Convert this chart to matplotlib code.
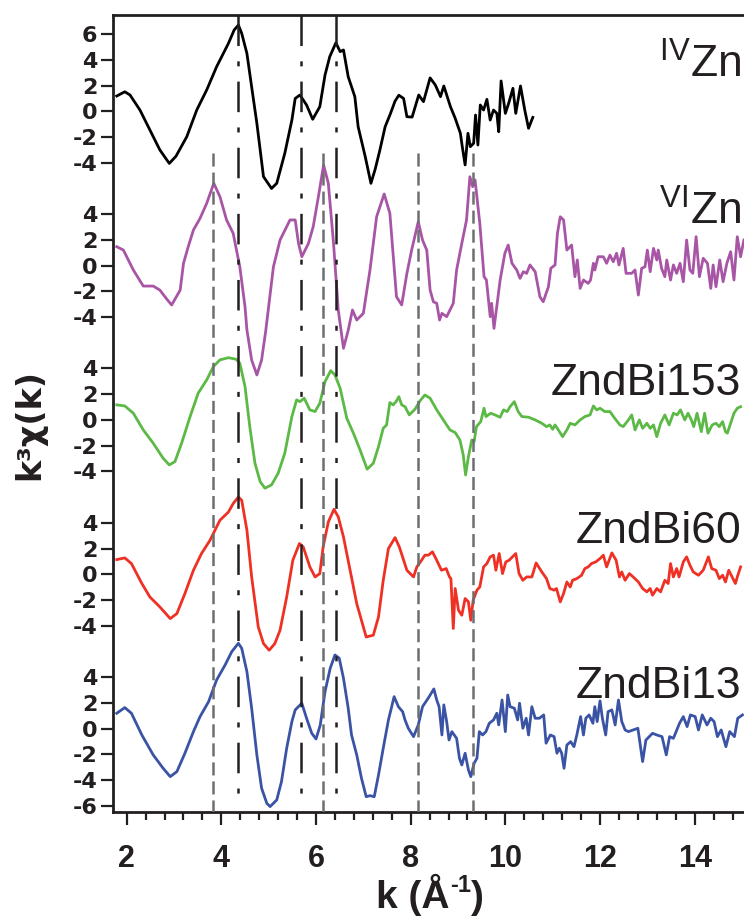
import numpy as np
import matplotlib
matplotlib.use("Agg")
import matplotlib.pyplot as plt
from matplotlib.ticker import MultipleLocator

plt.rcParams['font.family'] = ['Liberation Sans', 'DejaVu Sans']
plt.rcParams['mathtext.fontset'] = 'custom'
plt.rcParams['mathtext.rm'] = 'Liberation Sans'
plt.rcParams['mathtext.bf'] = 'Liberation Sans:bold'
plt.rcParams['lines.scale_dashes'] = False

# --- k^3 chi(k) spectra ---
k_ivzn = [1.79, 1.96, 2.07, 2.28, 2.49, 2.70, 2.90, 3.04, 3.27, 3.48, 3.69, 3.90, 4.15, 4.27,
          4.36, 4.43, 4.54, 4.64, 4.75, 4.89, 5.06, 5.17, 5.34, 5.49, 5.56, 5.66, 5.80, 5.93,
          6.08, 6.19, 6.29, 6.42, 6.51, 6.58, 6.68, 6.82, 6.89, 7.04, 7.16, 7.25, 7.35, 7.46,
          7.57, 7.67, 7.75, 7.85, 7.92, 8.03, 8.17, 8.27, 8.41, 8.52, 8.63, 8.70, 8.84, 8.94,
          9.05, 9.09, 9.15, 9.21, 9.26, 9.33, 9.37, 9.42, 9.47, 9.54, 9.61, 9.68, 9.75, 9.82,
          9.86, 9.91, 10.00, 10.07, 10.16, 10.22, 10.32, 10.41, 10.49, 10.58]
chi_ivzn = [1.19, 1.52, 1.27, 0.10, -1.45, -3.00, -4.05, -3.50, -1.97, 0.10, 1.66, 3.47, 5.29, 6.32,
            6.71, 6.06, 4.50, 1.90, -0.93, -5.08, -6.00, -5.60, -3.27, -0.68, 1.00, 1.27, 0.49, -0.62,
            0.36, 2.82, 4.25, 5.33, 4.64, 4.77, 2.69, 1.14, -1.20, -3.53, -5.60, -4.50, -3.00, -1.20,
            -0.20, 0.80, 1.25, 1.00, -0.42, -0.45, 1.27, 0.75, 2.60, 2.05, 1.14, 1.97, 0.36, -0.54,
            -1.71, -2.75, -4.17, -1.71, -2.75, -2.49, -0.29, -2.62, 0.49, 0.10, 0.93, -0.68, 0.10, -0.16,
            -1.59, 2.36, -0.16, 0.62, 1.79, -0.16, 1.97, 0.10, -1.32, -0.47]

k_vizn = [1.79, 1.93, 2.14, 2.35, 2.56, 2.70, 2.85, 2.95, 3.13, 3.20, 3.30, 3.41, 3.55, 3.69,
          3.84, 3.97, 4.11, 4.25, 4.39, 4.50, 4.54, 4.64, 4.75, 4.85, 4.94, 5.10, 5.24, 5.45,
          5.56, 5.63, 5.70, 5.84, 5.94, 6.05, 6.16, 6.26, 6.37, 6.47, 6.58, 6.68, 6.77, 6.86,
          7.00, 7.14, 7.28, 7.44, 7.56, 7.70, 7.81, 7.92, 8.02, 8.16, 8.25, 8.34, 8.41, 8.48,
          8.55, 8.61, 8.66, 8.76, 8.83, 8.90, 8.97, 9.08, 9.18, 9.25, 9.31, 9.36, 9.46, 9.55,
          9.60, 9.68, 9.71, 9.76, 9.89, 9.99, 10.06, 10.14, 10.24, 10.31, 10.38, 10.45, 10.52, 10.63,
          10.73, 10.80, 10.91, 10.96, 11.05, 11.10, 11.16, 11.23, 11.30, 11.40, 11.47, 11.52, 11.58, 11.65,
          11.75, 11.80, 11.86, 11.89, 11.96, 12.07, 12.14, 12.21, 12.28, 12.35, 12.40, 12.49, 12.55, 12.67,
          12.74, 12.81, 12.88, 12.95, 13.00, 13.06, 13.13, 13.20, 13.23, 13.30, 13.37, 13.41, 13.49, 13.55,
          13.62, 13.69, 13.76, 13.83, 13.90, 13.96, 14.03, 14.10, 14.18, 14.27, 14.34, 14.39, 14.45, 14.53,
          14.60, 14.68, 14.76, 14.83, 14.90, 14.97, 15.04]
chi_vizn = [1.47, 1.21, -0.34, -1.59, -1.59, -1.90, -2.62, -3.06, -1.90, 0.18, 1.47, 2.77, 3.68, 4.84,
            6.40, 5.36, 3.55, 2.51, -0.09, -3.20, -5.00, -7.34, -8.50, -7.34, -5.00, -0.09, 1.99, 3.55,
            3.55, 1.73, 0.69, 1.73, 3.02, 5.36, 7.82, 6.40, 1.73, -3.45, -6.43, -5.03, -3.45, -4.23,
            -3.71, -0.34, 3.80, 5.57, 4.07, -2.42, -3.06, -0.60, 1.21, 3.41, 1.99, 1.20, -1.90, -2.81,
            -2.93, -4.23, -3.71, -3.97, -3.45, -2.93, -0.34, 1.73, 3.55, 6.91, 6.14, 6.66, 3.29, -0.86,
            -1.12, -3.97, -2.93, -4.88, -1.12, 0.96, 1.60, 0.18, -0.34, -0.99, -0.47, -0.60, 0.05, -0.47,
            -2.42, -2.81, -1.64, -0.21, 0.05, 2.51, 3.80, 3.55, 1.21, 1.60, -0.86, 0.44, -1.77, -1.12,
            -1.38, -1.12, 0.18, -0.34, 0.69, 0.69, 0.18, 0.82, 0.30, 0.96, 0.05, 1.34, -0.60, -0.60,
            -0.34, -2.29, -0.21, -0.09, 1.21, -0.47, 1.34, 0.44, 1.21, -0.21, -0.86, 0.44, -1.12, 0.05,
            -0.60, 0.18, -1.25, 1.99, -0.34, -0.60, 2.25, -0.86, 0.57, 0.18, -1.77, 0.05, -1.64, 0.44,
            -1.25, 0.18, 1.08, -1.12, 2.25, 0.69, 1.99]

k_bi153 = [1.79, 1.96, 2.14, 2.35, 2.56, 2.77, 2.90, 3.02, 3.16, 3.34, 3.51, 3.69, 3.83, 3.97,
           4.15, 4.31, 4.39, 4.50, 4.60, 4.71, 4.82, 4.92, 5.06, 5.20, 5.34, 5.49, 5.59, 5.66,
           5.75, 5.87, 5.98, 6.08, 6.19, 6.31, 6.40, 6.51, 6.65, 6.79, 6.93, 7.08, 7.21, 7.32,
           7.42, 7.49, 7.56, 7.63, 7.69, 7.75, 7.81, 7.88, 7.97, 8.09, 8.20, 8.30, 8.41, 8.55,
           8.69, 8.83, 8.94, 9.04, 9.11, 9.16, 9.22, 9.29, 9.34, 9.39, 9.48, 9.55, 9.59, 9.69,
           9.78, 9.89, 9.96, 10.04, 10.10, 10.19, 10.27, 10.35, 10.49, 10.63, 10.77, 10.87, 10.94, 11.00,
           11.05, 11.12, 11.21, 11.30, 11.37, 11.47, 11.58, 11.68, 11.79, 11.86, 11.93, 12.00, 12.10, 12.21,
           12.31, 12.42, 12.49, 12.60, 12.67, 12.74, 12.83, 12.90, 12.99, 13.06, 13.13, 13.20, 13.28, 13.37,
           13.46, 13.55, 13.63, 13.70, 13.79, 13.86, 13.93, 13.98, 14.05, 14.14, 14.21, 14.28, 14.37, 14.45,
           14.52, 14.59, 14.65, 14.69, 14.76, 14.83, 14.90, 14.97]
chi_bi153 = [1.17, 1.09, 0.52, -0.78, -1.81, -2.98, -3.50, -3.24, -1.81, 0.26, 2.08, 3.11, 4.14, 4.67,
             4.84, 4.72, 4.41, 2.59, -0.52, -3.37, -4.80, -5.31, -5.05, -4.15, -2.59, 0.26, 1.56, 1.42,
             1.69, 0.78, 0.65, 1.30, 2.98, 3.83, 3.50, 2.46, 0.13, -1.03, -2.33, -3.83, -3.37, -2.08,
             -0.65, -0.39, 1.35, 1.17, 1.42, 1.81, 1.17, 1.03, 0.39, 0.83, 1.50, 1.94, 1.69, 0.78,
             0.00, -0.78, -0.98, -1.56, -2.72, -4.28, -2.85, -1.56, -1.69, -0.52, -0.13, 0.91, 0.26, 0.52,
             0.39, 0.21, 0.78, 0.65, 1.03, 1.42, 0.65, 0.26, 0.21, 0.00, -0.26, -0.52, -0.39, -0.73,
             -0.39, -0.78, -1.30, -0.78, -0.26, -0.39, 0.00, 0.26, 0.39, 1.09, 0.78, 0.91, 0.65, 0.65,
             0.13, -0.39, -0.52, 0.00, 0.39, -0.78, 0.00, -0.65, -0.26, -0.65, -0.39, -1.30, -0.26, 0.39,
             -0.39, 0.52, 0.39, 0.78, 0.00, 0.52, 0.00, -0.52, 0.52, -0.91, 0.52, -1.03, -0.39, -0.26,
             -0.52, -0.13, -0.91, -1.03, -0.26, 0.52, 0.91, 1.03]

k_bi60 = [1.79, 1.96, 2.10, 2.32, 2.49, 2.70, 2.92, 3.06, 3.23, 3.41, 3.58, 3.76, 3.97, 4.15,
          4.25, 4.36, 4.43, 4.54, 4.64, 4.78, 4.89, 5.01, 5.13, 5.24, 5.38, 5.51, 5.65, 5.73,
          5.87, 5.98, 6.08, 6.15, 6.26, 6.38, 6.47, 6.58, 6.72, 6.86, 7.06, 7.21, 7.32, 7.42,
          7.53, 7.67, 7.76, 7.85, 7.92, 8.06, 8.13, 8.23, 8.30, 8.37, 8.46, 8.55, 8.65, 8.75,
          8.82, 8.85, 8.90, 8.94, 9.01, 9.08, 9.15, 9.22, 9.27, 9.32, 9.40, 9.46, 9.54, 9.61,
          9.68, 9.75, 9.80, 9.87, 9.94, 10.01, 10.08, 10.15, 10.22, 10.29, 10.37, 10.45, 10.56, 10.65,
          10.77, 10.87, 10.94, 11.03, 11.08, 11.16, 11.23, 11.30, 11.37, 11.42, 11.51, 11.61, 11.68, 11.75,
          11.82, 11.91, 12.00, 12.07, 12.14, 12.25, 12.34, 12.41, 12.46, 12.53, 12.62, 12.70, 12.81, 12.90,
          12.99, 13.06, 13.11, 13.20, 13.28, 13.37, 13.44, 13.49, 13.55, 13.62, 13.67, 13.76, 13.83, 13.90,
          13.97, 14.08, 14.18, 14.29, 14.36, 14.45, 14.52, 14.59, 14.65, 14.72, 14.79, 14.86, 14.90, 14.97]
chi_bi60 = [1.14, 1.27, 0.83, -0.72, -1.77, -2.54, -3.45, -3.06, -1.50, 0.31, 1.61, 2.64, 4.20, 4.84,
            5.50, 6.01, 5.75, 3.42, -0.21, -4.10, -5.39, -5.91, -5.39, -4.35, -1.77, 1.09, 2.39, 2.12,
            0.57, -0.21, 0.05, 2.12, 4.07, 5.05, 4.46, 2.90, 0.31, -2.28, -4.88, -4.74, -3.32, -0.47,
            2.00, 2.85, 2.12, 1.09, 0.31, -0.21, 0.57, 1.09, 1.48, 1.48, 1.74, 1.09, 0.31, 0.44,
            -0.21, -0.34, -4.22, -1.11, -2.80, -3.19, -1.89, -2.15, -3.58, -2.02, -1.24, -0.99, 0.57, 0.83,
            1.35, 1.48, 0.31, 1.61, 0.05, 0.96, 1.09, 1.35, 1.61, 0.05, -0.47, -0.21, -0.21, 0.88,
            0.18, -0.34, -1.11, -1.24, -1.11, -2.15, -1.50, -0.60, -0.99, -0.47, -0.34, -0.08, 0.44, 0.57,
            0.83, 0.96, 1.22, 1.48, 0.57, 1.66, 1.09, -0.21, 0.18, -0.47, 0.05, -0.21, -0.60, -1.11,
            -1.37, -1.11, -1.63, -1.11, -1.37, -0.47, -0.72, 0.83, -0.21, 0.44, -0.21, 0.96, 1.35, 0.70,
            0.18, -0.08, 0.31, 1.35, 0.44, 0.31, -0.34, -0.08, -0.60, 0.31, -0.21, -0.72, -0.21, 0.57]

k_bi13 = [1.79, 1.96, 2.10, 2.32, 2.56, 2.77, 2.92, 3.06, 3.23, 3.41, 3.55, 3.73, 3.90, 4.08,
          4.22, 4.36, 4.43, 4.54, 4.64, 4.75, 4.85, 4.96, 5.03, 5.17, 5.27, 5.38, 5.49, 5.56,
          5.70, 5.80, 5.91, 6.00, 6.09, 6.19, 6.30, 6.40, 6.49, 6.58, 6.68, 6.75, 6.86, 6.96,
          7.06, 7.14, 7.23, 7.32, 7.42, 7.53, 7.65, 7.74, 7.83, 7.88, 7.95, 8.06, 8.16, 8.25,
          8.37, 8.49, 8.55, 8.60, 8.66, 8.70, 8.76, 8.81, 8.87, 8.97, 9.03, 9.08, 9.15, 9.22,
          9.27, 9.34, 9.40, 9.45, 9.52, 9.59, 9.66, 9.75, 9.82, 9.86, 9.93, 10.00, 10.05, 10.10,
          10.19, 10.26, 10.30, 10.37, 10.44, 10.49, 10.56, 10.63, 10.72, 10.81, 10.86, 10.95, 11.03, 11.09,
          11.14, 11.19, 11.24, 11.30, 11.38, 11.45, 11.51, 11.59, 11.65, 11.70, 11.77, 11.85, 11.89, 11.94,
          12.00, 12.05, 12.12, 12.17, 12.25, 12.32, 12.39, 12.46, 12.53, 12.60, 12.80, 12.90, 12.97, 13.11,
          13.20, 13.31, 13.40, 13.47, 13.55, 13.68, 13.76, 13.84, 13.91, 14.01, 14.08, 14.16, 14.26, 14.34,
          14.41, 14.48, 14.56, 14.66, 14.74, 14.84, 14.91, 15.01]
chi_bi13 = [1.19, 1.63, 1.19, -0.50, -2.05, -3.09, -3.74, -3.35, -1.92, -0.24, 0.93, 2.09, 3.78, 4.95,
            5.98, 6.63, 6.24, 4.42, 1.58, -2.05, -4.64, -5.81, -6.07, -5.55, -4.13, -1.53, 0.54, 1.45,
            1.97, 0.80, -0.37, -0.81, 0.28, 2.87, 4.69, 5.72, 5.47, 3.91, 1.58, -0.50, -2.05, -3.86,
            -5.30, -5.22, -5.30, -3.61, -1.53, 0.67, 2.48, 1.70, 1.31, 0.67, 0.02, -0.63, 0.28, 1.70,
            2.36, 3.08, 2.22, 1.70, -0.50, 1.84, 0.54, -0.89, -0.24, -0.76, -2.31, -2.83, -1.92, -3.22,
            -3.74, -2.70, -2.31, -0.24, -0.50, -0.24, 0.41, 0.67, 1.19, 0.28, 2.22, -0.24, 2.61, 1.70,
            1.58, 0.67, 1.97, 0.02, 0.80, -0.50, 1.70, 0.80, 0.80, 1.06, -1.14, -0.50, -0.63, -1.92,
            -1.53, -1.92, -3.09, -1.28, -1.02, -1.41, -0.50, 0.93, -0.50, 0.80, 1.06, 0.41, 1.70, 0.54,
            2.15, 0.80, -0.50, 1.31, 1.45, 0.28, 2.22, 0.54, -0.11, -0.24, 0.02, -2.57, -0.89, -0.37,
            -0.50, -0.63, -2.05, -0.63, -0.76, 0.41, 0.93, 0.15, 1.06, 0.93, -0.11, 1.06, 0.28, 0.80,
            0.54, -0.63, -0.11, -1.41, -0.24, -0.63, 0.80, 1.06]

names = [r"$^{\mathrm{IV}}$Zn", r"$^{\mathrm{VI}}$Zn", "ZndBi153", "ZndBi60", "ZndBi13"]
k_all = [k_ivzn, k_vizn, k_bi153, k_bi60, k_bi13]
chi_all = [chi_ivzn, chi_vizn, chi_bi153, chi_bi60, chi_bi13]
colors = ["#000000", "#a855a6", "#5cb946", "#ee3124", "#3a53a4"]
offsets = [0, -12, -24, -36, -48]
yticks_each = [[6, 4, 2, 0, -2, -4], [4, 2, 0, -2, -4], [4, 2, 0, -2, -4],
               [4, 2, 0, -2, -4], [4, 2, 0, -2, -4, -6]]
label_base = [2.59, 3.16, 1.94, 2.43, 2.40]

# reference lines
dashdot_k = [4.345, 5.676, 6.42]
dashed_k = [3.83, 6.155, 8.16, 9.315]

ink = "#231f20"

fig = plt.figure(figsize=(7.44, 9.17), dpi=100)
ax = fig.add_axes([113.3 / 744, 1 - 812 / 917, 1 - 113.3 / 744, 797 / 917])

for k, chi, c, off in zip(k_all, chi_all, colors, offsets):
    ax.plot(k, np.array(chi) + off, color=c, lw=2.0, solid_joinstyle='round', zorder=2)

for xk in dashdot_k:
    ax.plot([xk, xk], [7.5, -54.0], color=ink, lw=1.8, dashes=(22, 11, 3.6, 11), zorder=3)
for xk in dashed_k:
    ax.plot([xk, xk], [-3.27, -54.5], color="#6d6e71", lw=1.8, dashes=(9.4, 4.3), zorder=3)

for name, base, off in zip(names, label_base, offsets):
    ax.text(14.98, base + off, name, ha='right', va='baseline', fontsize=32, color=ink, zorder=4)

ax.set_xlim(1.717, 15.042)
ax.set_ylim(-54.49, 7.49)

ypos, ylab = [], []
for ticks, off in zip(yticks_each, offsets):
    for t in ticks:
        ypos.append(t + off)
        ylab.append(str(t))
ax.set_yticks(ypos, ylab)
for lab in ax.get_yticklabels():
    lab.set_fontfamily('DejaVu Sans')
    lab.set_fontweight('bold')
    lab.set_fontsize(16)
    lab.set_color(ink)

ax.xaxis.set_major_locator(MultipleLocator(2))
ax.xaxis.set_minor_locator(MultipleLocator(0.4))
for lab in ax.get_xticklabels():
    lab.set_fontweight('bold')
    lab.set_fontsize(22)
    lab.set_color(ink)

ax.tick_params(axis='y', direction='out', length=8.4, width=1.6, pad=3.0, color=ink)
ax.tick_params(axis='x', which='major', direction='out', length=9.1, width=1.6, pad=14.0, color=ink)
ax.tick_params(axis='x', which='minor', direction='out', length=5.5, width=1.6, color=ink)

for s in ['left', 'bottom', 'top']:
    ax.spines[s].set_linewidth(2.0)
    ax.spines[s].set_color(ink)
ax.spines['right'].set_visible(False)

fig.text(30 / 744, 1 - 425 / 917, "k³χ(k)", rotation=90, ha='center', va='center',
         fontsize=24, fontweight='bold', family=['DejaVu Sans'], color=ink)

# x label built from pieces so the exponent keeps a short hyphen
W, H = 744, 917
base_y = 908
renderer = fig.canvas.get_renderer()
parts = [("k (Å", 28, 0), ("-1", 17, 16), (")", 28, 0)]
texts = [fig.text(0, 0, s, fontsize=fs, fontweight='bold', color=ink,
                  ha='left', va='baseline') for s, fs, _ in parts]
widths = [t.get_window_extent(renderer).width for t in texts]
x = 430 - sum(widths) / 2
for t, w, (_, _, rise) in zip(texts, widths, parts):
    t.set_position((x / W, (H - base_y + rise) / H))
    x += w

fig.savefig("out.png", dpi=100)
